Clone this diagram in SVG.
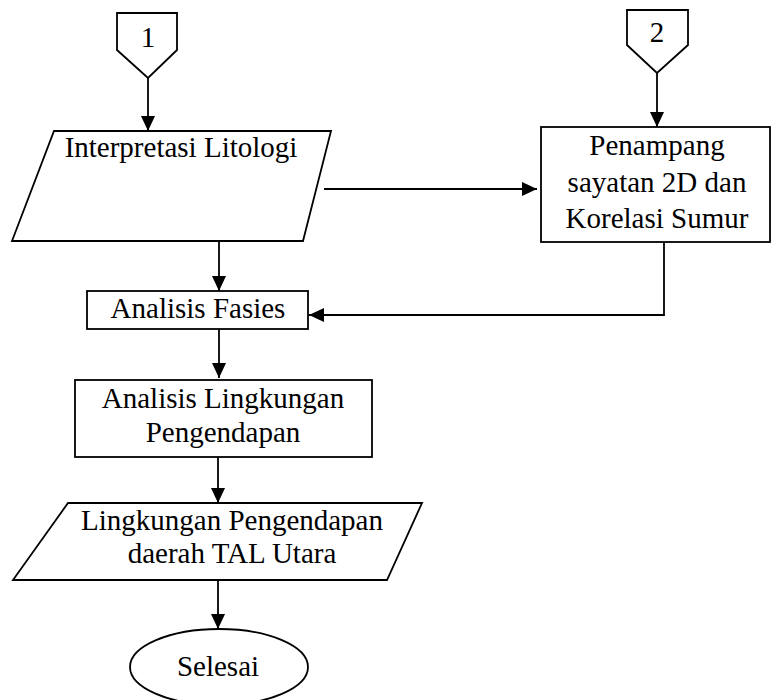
<svg xmlns="http://www.w3.org/2000/svg" width="771" height="700" viewBox="0 0 771 700">
<defs>
<marker id="ah" markerUnits="userSpaceOnUse" markerWidth="16" markerHeight="14" refX="15" refY="7" orient="auto">
<path d="M0,0 L15,7 L0,14 Z" fill="#000"/>
</marker>
<style>
.s{fill:#fff;stroke:#000;stroke-width:1.8}
.t{font-family:"Liberation Serif","Times New Roman",serif;font-size:29px;fill:#000;text-anchor:middle}
.c{fill:none;stroke:#000;stroke-width:1.8}
</style>
</defs>
<rect width="771" height="700" fill="#fff"/>
<g id="connectors">
<path class="c" d="M148,78 V131" marker-end="url(#ah)"/>
<path class="c" d="M657,73 V127" marker-end="url(#ah)"/>
<path class="c" d="M324,189 H537" marker-end="url(#ah)"/>
<path class="c" d="M219,241 V291" marker-end="url(#ah)"/>
<path class="c" d="M664,242 V315 H309" marker-end="url(#ah)"/>
<path class="c" d="M219,329 V378" marker-end="url(#ah)"/>
<path class="c" d="M218,457 V503" marker-end="url(#ah)"/>
<path class="c" d="M218,580 V629" marker-end="url(#ah)"/>
</g>
<g id="conn1">
<polygon class="s" points="117,13 177,13 177,50 148,78 117,50"/>
<text class="t" x="148" y="47">1</text>
</g>
<g id="conn2">
<polygon class="s" points="627,10 688,10 688,45 657,73 627,45"/>
<text class="t" x="657" y="42">2</text>
</g>
<g id="interpretasi">
<polygon class="s" points="54,131 331,131 303,241 12,241"/>
<text class="t" x="181" y="157">Interpretasi Litologi</text>
</g>
<g id="penampang">
<rect class="s" x="541" y="127" width="229" height="115"/>
<text class="t" x="657" y="155">Penampang</text>
<text class="t" x="657" y="192">sayatan 2D dan</text>
<text class="t" x="657" y="228">Korelasi Sumur</text>
</g>
<g id="fasies">
<rect class="s" x="87" y="291" width="221" height="38"/>
<text class="t" x="198" y="318">Analisis Fasies</text>
</g>
<g id="lingkungan">
<rect class="s" x="75" y="380" width="297" height="77"/>
<text class="t" x="223" y="408">Analisis Lingkungan</text>
<text class="t" x="223" y="442">Pengendapan</text>
</g>
<g id="hasil">
<polygon class="s" points="68,503 422,503 387,580 13,580"/>
<text class="t" x="232" y="530">Lingkungan Pengendapan</text>
<text class="t" x="232" y="563">daerah TAL Utara</text>
</g>
<g id="selesai">
<ellipse class="s" cx="219" cy="667" rx="89" ry="38"/>
<text class="t" x="218" y="676">Selesai</text>
</g>
</svg>
